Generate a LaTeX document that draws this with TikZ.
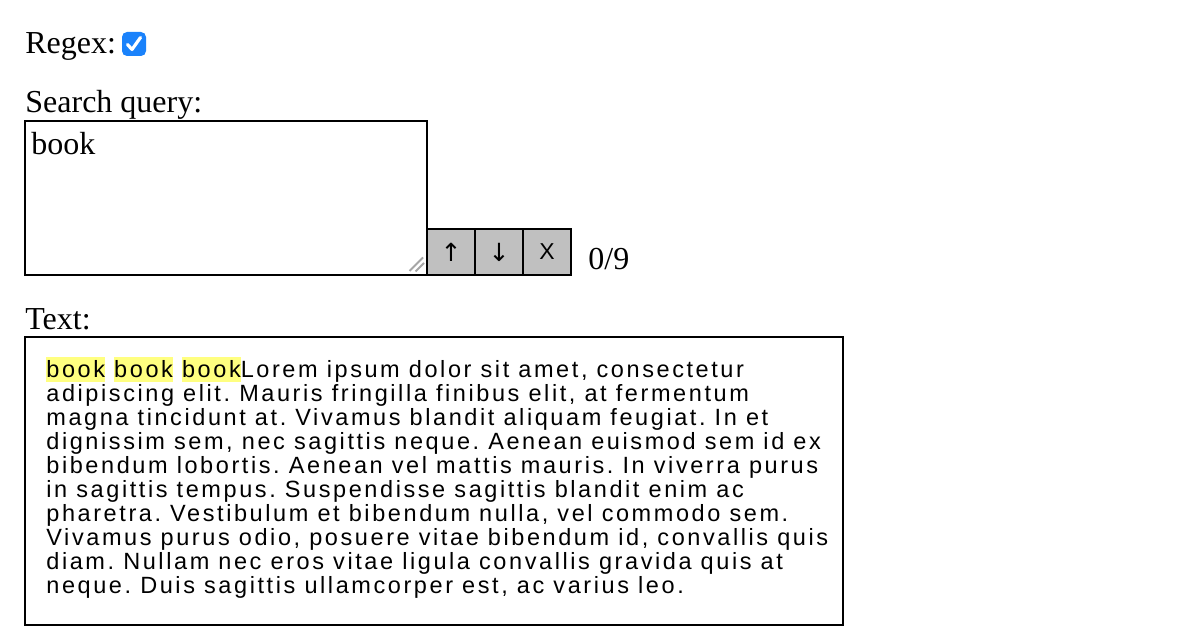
\documentclass[tikz,border=0pt]{standalone}
\usepackage{fontspec}
\setmainfont{Liberation Serif}
\newfontfamily\bodyfont{Liberation Sans}[LetterSpace=11]
\newfontfamily\btnfont{Liberation Sans}
\newfontfamily\arrowfont{DejaVu Sans}
\definecolor{hl}{HTML}{FFFF80}
\definecolor{cbblue}{HTML}{1A82FB}
\definecolor{btngray}{HTML}{C0C0C0}
\newcommand{\hlbook}{{\setlength{\fboxsep}{0pt}\colorbox{hl}{\rule[-2.5pt]{0pt}{12.5pt}book}}}
\frenchspacing
\begin{document}
\begin{tikzpicture}[x=0.5pt,y=-0.5pt,
  label/.style={anchor=base west,inner sep=0,font=\fontsize{16pt}{18pt}\selectfont},
  bodyline/.style={anchor=base west,inner sep=0,font=\bodyfont\fontsize{11.75pt}{12pt}\selectfont},
  frame/.style={draw=black,line width=1pt},
  btn/.style={draw=black,line width=1pt,fill=btngray,minimum width=24pt,minimum height=23pt,inner sep=0,font=\btnfont\fontsize{11.5pt}{12pt}\selectfont}]
\useasboundingbox (0,0) rectangle (1200,642);
% labels
\node[label] (regex) at (25,54) {Regex:};
\node[label] (sq) at (25,113) {Search query:};
\node[label] (txt) at (25,329) {Text:};
% checkbox
\fill[cbblue,rounded corners=2.5pt] (122,32) rectangle (146,56);
\draw[white,line width=1.6pt,line cap=round,line join=round] (127.5,44.5) -- (132,49.5) -- (140.5,37.5);
% textarea
\draw[frame] (25,121) rectangle (427,275);
\node[label] (query) at (31,154.5) {book};
\draw[gray!70,line width=0.9pt] (409.5,271) -- (423,257.5);
\draw[gray!70,line width=0.9pt] (415.5,271.5) -- (424,263);
% buttons
\node[btn] (up) at (451,252) {\arrowfont\fontsize{12.5pt}{14pt}\selectfont ↑};
\node[btn] (down) at (499,252) {\arrowfont\fontsize{12.5pt}{14pt}\selectfont ↓};
\node[btn] (close) at (547,252) {X};
\node[label] (count) at (588,269) {0/9};
% text box
\draw[frame] (25,337) rectangle (843,625);
\node[bodyline] (l1) at (46,377) {\hlbook{} \hlbook{} \hlbook{}Lorem ipsum dolor sit amet, consectetur};
\node[bodyline] (l2) at (46,401) {adipiscing elit. Mauris fringilla finibus elit, at fermentum};
\node[bodyline] (l3) at (46,425) {magna tincidunt at. Vivamus blandit aliquam feugiat. In et};
\node[bodyline] (l4) at (46,449) {dignissim sem, nec sagittis neque. Aenean euismod sem id ex};
\node[bodyline] (l5) at (46,473) {bibendum lobortis. Aenean vel mattis mauris. In viverra purus};
\node[bodyline] (l6) at (46,497) {in sagittis tempus. Suspendisse sagittis blandit enim ac};
\node[bodyline] (l7) at (46,521) {pharetra. Vestibulum et bibendum nulla, vel commodo sem.};
\node[bodyline] (l8) at (46,545) {Vivamus purus odio, posuere vitae bibendum id, convallis quis};
\node[bodyline] (l9) at (46,569) {diam. Nullam nec eros vitae ligula convallis gravida quis at};
\node[bodyline] (l10) at (46,593) {neque. Duis sagittis ullamcorper est, ac varius leo.};
\end{tikzpicture}
\end{document}
